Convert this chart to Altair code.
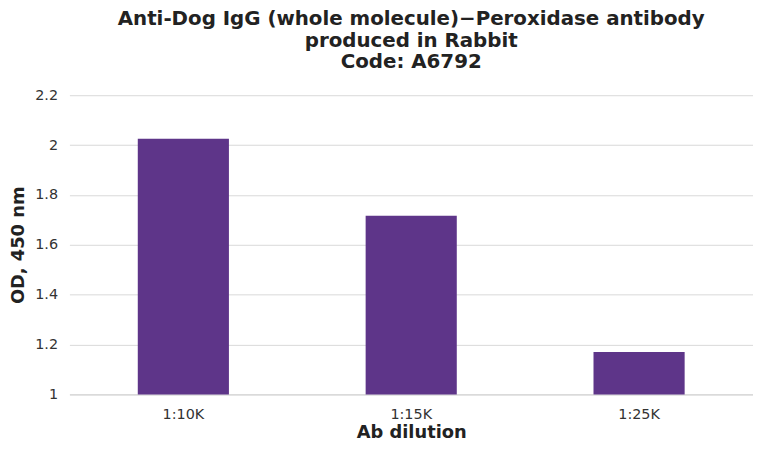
import altair as alt
import pandas as pd

dilutions = ["1:10K", "1:15K", "1:25K"]
od_values = [2.025, 1.717, 1.17]

df = pd.DataFrame({"dilution": dilutions, "od": od_values})

FONT = "DejaVu Sans"

chart = alt.Chart(df).mark_bar(color="#5E3589").encode(
    x=alt.X("dilution:N", sort=dilutions,
            scale=alt.Scale(paddingInner=0.6, paddingOuter=0.3),
            axis=alt.Axis(title="Ab dilution", labelAngle=0, ticks=False,
                          domainColor="#d0d0d0", labelFontSize=14.5, labelColor="#333333",
                          labelPadding=13, titleFontSize=18, titleFontWeight="bold",
                          titleColor="#222222", titlePadding=3)),
    y=alt.Y("od:Q", scale=alt.Scale(domain=[1, 2.2], nice=False, zero=False),
            axis=alt.Axis(title="OD, 450 nm", values=[1, 1.2, 1.4, 1.6, 1.8, 2, 2.2],
                          format="~f", ticks=False, domain=False, gridColor="#d9d9d9",
                          labelFontSize=14.5, labelColor="#333333", labelPadding=12,
                          titleFontSize=18, titleFontWeight="bold", titleColor="#222222",
                          titlePadding=7)),
    y2=alt.datum(1),
).properties(
    width=690, height=302,
    title=alt.TitleParams(
        ["Anti-Dog IgG (whole molecule)\u2212Peroxidase antibody", "produced in Rabbit", "Code: A6792"],
        fontSize=20, fontWeight="bold", color="#222222", anchor="middle", offset=15,
        lineHeight=22, font=FONT),
    autosize=alt.AutoSizeParams(type="none"),
    padding={"left": 62, "top": 86, "right": 0, "bottom": 46},
).configure(font=FONT).configure_view(stroke=None)

chart.save("out.html", embed_options={"renderer": "svg", "actions": False})
